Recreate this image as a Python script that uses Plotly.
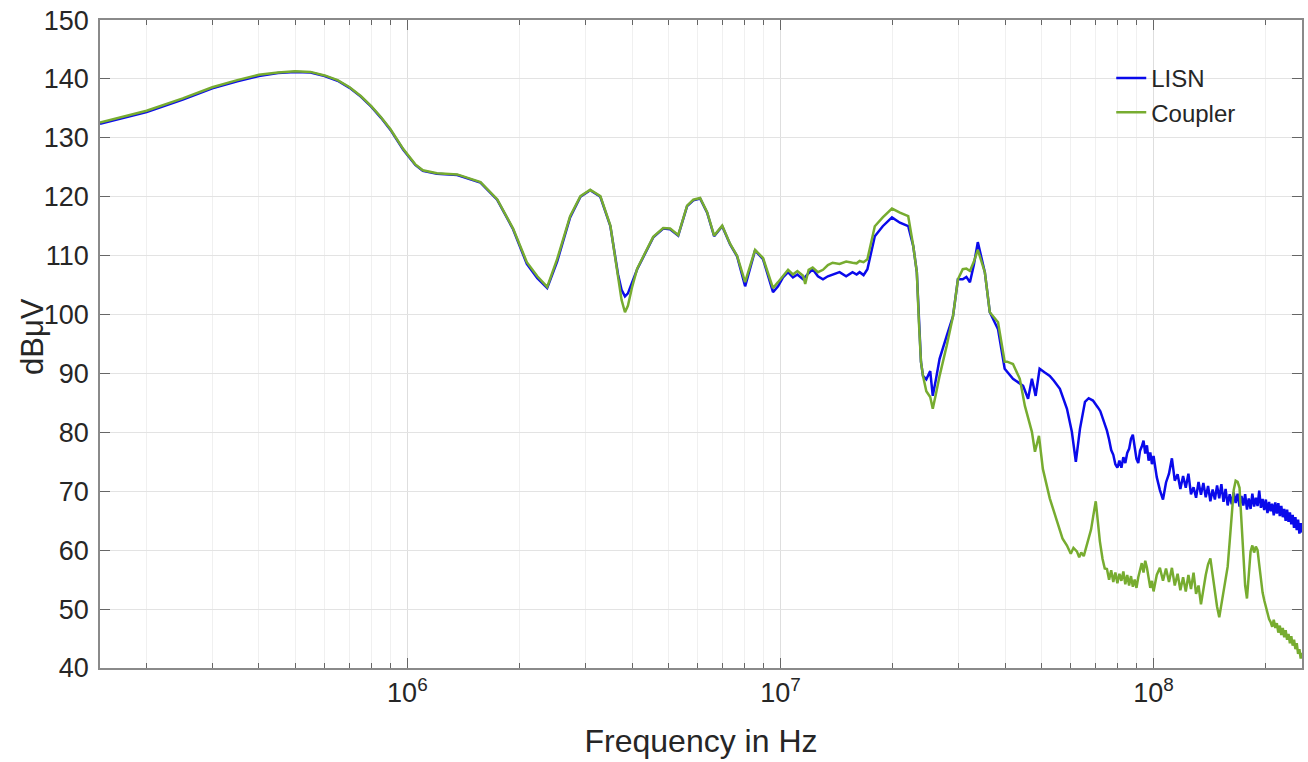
import plotly.graph_objects as go

# ---------------- data (frequency in MHz, level in dBuV) ----------------
lisn_freq_mhz = [
    0.15, 0.2, 0.25, 0.3, 0.35, 0.4, 0.45, 0.5, 0.55, 0.6, 0.65, 0.7, 0.75, 0.8, 0.85, 0.9, 0.975,
    1.05, 1.1, 1.2, 1.36, 1.57, 1.74, 1.92, 2.09, 2.23, 2.37, 2.52, 2.73, 2.91, 3.09, 3.29, 3.5,
    3.67, 3.75, 3.83, 3.9, 4.0, 4.13, 4.56, 4.85, 5.06, 5.32, 5.62, 5.84, 6.09, 6.36, 6.64, 6.98,
    7.33, 7.65, 8.04, 8.55, 8.98, 9.55, 9.85, 10.16, 10.48, 10.8, 11.1, 11.5, 11.8, 12.2, 12.6,
    13.0, 13.4, 13.8, 14.4, 15.0, 15.6, 16.0, 16.3, 16.7, 17.1, 17.9, 18.8, 19.9, 20.9, 22.0,
    22.7, 23.2, 23.5, 23.8, 24.1, 24.6, 25.2, 25.6, 26.1, 26.7, 27.9, 29.0, 29.9, 30.8, 31.5,
    32.2, 33.0, 33.8, 35.3, 36.4, 38.3, 39.9, 42.0, 44.7, 46.1, 47.2, 48.3, 49.5, 51.0, 52.7,
    54.0, 56.1, 58.6, 60.4, 61.9, 63.5, 65.5, 67.0, 68.8,
    70, 71, 72, 73, 74, 75, 76, 77, 78, 79, 80, 81, 82, 83, 84, 85, 86, 87, 88, 89, 90, 91, 92,
    93, 94, 95, 96, 97, 98, 99, 100,
    102, 104, 106, 108, 110, 112, 114, 116, 118, 120, 122, 124, 126, 128, 130, 132, 134, 136,
    138, 140, 142, 144, 146, 148, 150, 152, 154, 156, 158, 160, 162, 164, 166, 168, 170, 172,
    174, 176, 178, 180, 182, 184, 186, 188, 190, 192, 194, 196, 198, 200, 202, 204, 206, 208,
    210, 212, 214, 216, 218, 220, 222, 224, 226, 228, 230, 232, 234, 236, 238, 240, 242, 244,
    246, 248, 250,
]
lisn_db = [
    132.4, 134.4, 136.5, 138.4, 139.6, 140.5, 141.0, 141.2, 141.1, 140.5, 139.7, 138.5, 137.0, 135.3, 133.4, 131.4, 128.0,
    125.4, 124.4, 123.9, 123.7, 122.4, 119.5, 114.5, 108.6, 106.2, 104.5, 109.0, 116.5, 120.0, 121.1, 120.0, 115.0,
    106.8, 104.2, 103.1, 103.6, 105.3, 107.7, 113.1, 114.6, 114.5, 113.4, 118.4, 119.4, 119.7, 117.3, 113.3, 115.0,
    111.9, 109.9, 104.8, 110.9, 109.4, 103.8, 104.8, 106.3, 107.2, 106.3, 106.8, 106.0, 106.8, 107.7, 106.5,
    106.0, 106.5, 106.8, 107.2, 106.5, 107.2, 106.8, 107.2, 106.7, 107.7, 113.3, 115.0, 116.5, 115.6, 115.0,
    111.6, 107.2, 98.7, 92.0, 89.6, 89.0, 90.4, 86.2, 89.0, 92.5, 96.4, 99.7, 106.0, 106.0, 106.4,
    105.5, 108.5, 112.3, 107.2, 100.4, 97.5, 90.8, 89.1, 87.9, 85.7, 89.1, 86.2, 90.8, 90.2, 89.6,
    88.8, 87.4, 84.0, 80.1, 75.0, 80.6, 85.2, 85.8, 85.4,
    84.8, 84.2, 83.6, 82.5, 81.6, 80.3, 78.8, 77.0, 76.2, 74.6, 74.0, 75.2, 74.0, 75.8, 74.8, 76.5, 77.2, 78.9, 79.6, 77.0, 75.5, 74.8, 76.9,
    77.6, 78.6, 76.4, 77.8, 75.2, 76.6, 74.6, 76.0,
    72.4, 70.2, 68.6, 71.5, 73.0, 75.6, 71.8, 72.9, 70.4, 72.6, 70.6, 73.0, 69.5, 70.7, 68.9, 71.6, 69.4, 71.4,
    69.0, 70.9, 68.3, 70.3, 68.6, 71.0, 68.8, 71.2, 68.2, 70.4, 67.6, 69.5, 67.8, 69.8, 68.0, 69.6, 67.4, 69.2,
    67.6, 69.5, 66.9, 68.8, 67.0, 69.6, 67.4, 68.9, 67.5, 70.1, 67.2, 68.7, 66.8, 68.6, 66.3, 68.2, 66.6, 67.9,
    65.9, 68.1, 66.2, 68.0, 65.8, 67.5, 65.6, 67.0, 65.0, 66.9, 64.8, 66.4, 64.4, 66.0, 63.8, 65.6, 63.4, 65.2,
    62.8, 64.6, 63.0,
]

coupler_freq_mhz = [
    0.15, 0.2, 0.25, 0.3, 0.35, 0.4, 0.45, 0.5, 0.55, 0.6, 0.65, 0.7, 0.75, 0.8, 0.85, 0.9, 0.975,
    1.05, 1.1, 1.2, 1.36, 1.57, 1.74, 1.92, 2.09, 2.23, 2.37, 2.52, 2.73, 2.91, 3.09, 3.29, 3.5,
    3.67, 3.75, 3.83, 3.9, 4.0, 4.13, 4.56, 4.85, 5.06, 5.32, 5.62, 5.84, 6.09, 6.36, 6.64, 6.98,
    7.33, 7.65, 8.04, 8.55, 8.98, 9.55, 9.85, 10.16, 10.48, 10.8, 11.1, 11.5, 11.65, 11.9, 12.2,
    12.6, 13.0, 13.4, 13.8, 14.4, 15.0, 15.6, 16.0, 16.3, 16.7, 17.1, 17.9, 18.8, 19.9, 20.9,
    22.0, 22.7, 23.2, 23.5, 23.8, 24.1, 24.6, 25.2, 25.6, 26.1, 26.7, 27.9, 29.0, 29.9, 30.8,
    31.5, 32.2, 33.0, 33.8, 35.3, 36.4, 38.3, 39.9, 40.5, 42.0, 43.8, 45.2, 47.2, 48.1, 49.3,
    50.5, 52.7, 55.1, 57.0, 58.6, 60.0, 61.0, 62.3, 63.2, 64.0, 65.0, 66.2, 68.0, 69.0, 70.0,
    71.0, 71.8, 73.0, 74.0,
    75, 76, 77, 78, 79, 80, 81, 82, 83, 84, 85, 86, 87, 88, 89, 90, 91, 92, 93, 94, 95, 96, 97,
    98, 99, 100,
    102, 104, 106, 108, 110, 112, 114, 116, 118, 120, 122, 124, 126, 128, 130, 132, 134, 136,
    138, 140, 142, 144, 146, 148, 150, 152, 154, 156, 158, 160, 162, 164, 166, 168, 170, 172,
    174, 176, 178, 180, 182, 184, 186, 188, 190, 192, 194, 196, 198, 200, 202, 204, 206, 208,
    210, 212, 214, 216, 218, 220, 222, 224, 226, 228, 230, 232, 234, 236, 238, 240, 242, 244,
    246, 248, 250,
]
coupler_db = [
    132.6, 134.6, 136.7, 138.6, 139.8, 140.7, 141.1, 141.3, 141.2, 140.6, 139.8, 138.6, 137.1, 135.4, 133.5, 131.5, 128.1,
    125.5, 124.5, 124.0, 123.8, 122.5, 119.6, 114.6, 108.9, 106.5, 104.7, 109.4, 116.7, 120.1, 121.2, 120.1, 115.1,
    106.0, 102.5, 100.4, 101.5, 104.6, 107.8, 113.2, 114.7, 114.6, 113.5, 118.5, 119.5, 119.8, 117.4, 113.4, 115.1,
    112.0, 110.0, 105.5, 111.0, 109.6, 104.5, 105.5, 106.5, 107.6, 106.8, 107.4, 106.6, 105.2, 107.6, 108.0,
    107.2, 107.6, 108.4, 108.8, 108.6, 109.0, 108.8, 108.7, 109.1, 108.9, 109.4, 115.0, 116.5, 118.0, 117.3,
    116.7, 111.6, 107.2, 98.7, 92.0, 89.6, 87.0, 86.0, 84.0, 86.5, 89.6, 94.7, 99.7, 106.0, 107.7,
    107.8, 107.4, 109.0, 111.0, 107.2, 100.4, 98.7, 92.0, 92.0, 91.6, 89.1, 84.5, 80.1, 76.7, 79.4,
    73.8, 68.8, 64.9, 62.0, 60.8, 59.4, 60.4, 59.8, 58.8, 59.6, 59.0, 60.8, 63.5, 66.0, 68.3,
    64.5, 61.5, 58.5, 56.9,
    56.8, 55.0, 56.6, 54.6, 56.2, 54.4, 56.0, 54.8, 56.4, 54.2, 55.8, 54.0, 55.6, 53.8, 55.0, 53.6, 55.4, 56.4, 57.8, 56.2, 58.2, 57.0, 55.2,
    53.6, 54.8, 53.0,
    55.8, 57.0, 54.8, 56.9, 54.6, 57.0, 54.0, 56.0, 53.2, 55.4, 53.0, 55.8, 53.4, 56.2, 52.6, 54.0, 50.8, 53.4,
    55.8, 57.6, 58.6, 55.8, 52.6, 50.4, 48.6, 50.8, 53.4, 55.0, 57.2, 61.5, 65.8, 70.2, 71.8, 71.6, 70.6, 64.5,
    58.0, 54.0, 51.8, 55.5, 59.8, 60.8, 59.6, 60.6, 60.0, 57.5, 55.0, 52.8, 51.5, 50.4, 49.2, 48.3, 47.8, 47.0,
    48.2, 46.8, 47.6, 46.0, 47.2, 45.6, 46.8, 45.2, 46.4, 44.8, 45.8, 44.2, 45.4, 43.8, 44.8, 43.2, 44.2, 42.4,
    43.2, 41.6, 42.6,
]

y_ticks = [40, 50, 60, 70, 80, 90, 100, 110, 120, 130, 140, 150]
x_major_hz = [1e6, 1e7, 1e8]
x_major_text = ["10<sup>6</sup>", "10<sup>7</sup>", "10<sup>8</sup>"]
x_minor_hz = ([m * 1e5 for m in range(2, 10)] + [m * 1e6 for m in range(2, 10)]
              + [m * 1e7 for m in range(2, 10)] + [2e8])

lisn_hz = [f * 1e6 for f in lisn_freq_mhz]
coupler_hz = [f * 1e6 for f in coupler_freq_mhz]

TXT = "#262626"
FONT = "Liberation Sans, Arial, sans-serif"

fig = go.Figure()
fig.add_trace(go.Scatter(x=lisn_hz, y=lisn_db, mode="lines", name="LISN",
                         line=dict(color="#0a0aeb", width=2.5)))
fig.add_trace(go.Scatter(x=coupler_hz, y=coupler_db, mode="lines", name="Coupler",
                         line=dict(color="#77ac30", width=2.5)))

# plot area lands at x 100..1302, y 20..668 of the 1308x762 window
fig.update_layout(
    width=1308, height=762,
    margin=dict(l=100, r=6, t=20, b=94, autoexpand=False),
    paper_bgcolor="white", plot_bgcolor="white",
    font=dict(family=FONT, color=TXT, size=26),
    showlegend=True,
    legend=dict(x=0.8413, y=0.9445, xanchor="left", yanchor="top",
                bgcolor="rgba(0,0,0,0)", font=dict(size=24, color=TXT),
                tracegroupgap=0),
    annotations=[dict(text="dBμV", xref="paper", yref="paper",
                      x=-0.0557, y=0.511, xanchor="center", yanchor="middle",
                      textangle=-90, showarrow=False,
                      font=dict(size=31, color=TXT, family=FONT))],
)
fig.update_xaxes(
    type="log", range=[5.1761, 8.3979],
    tickvals=x_major_hz, ticktext=x_major_text,
    ticks="inside", ticklen=10, tickcolor="#666666", tickwidth=1,
    showgrid=True, gridcolor="#dedede", gridwidth=1,
    minor=dict(tickvals=x_minor_hz, ticks="inside", ticklen=5, tickcolor="#666666",
               showgrid=True, gridcolor="#f0f0f0", gridwidth=1),
    showline=True, linecolor="#8a8a8a", linewidth=1.5, mirror="ticks",
    zeroline=False, automargin=False,
    title=dict(text="Frequency in Hz", font=dict(size=32, color=TXT), standoff=22),
    tickfont=dict(size=27, color=TXT),
)
fig.update_yaxes(
    range=[40, 150.01], tickvals=y_ticks,
    ticks="inside", ticklen=10, tickcolor="#666666", tickwidth=1,
    showgrid=True, gridcolor="#e3e3e3", gridwidth=1,
    showline=True, linecolor="#8a8a8a", linewidth=1.5, mirror="ticks",
    zeroline=False, ticklabelstandoff=4, ticklabeloverflow="allow", automargin=False,
    tickfont=dict(size=27, color=TXT),
)

fig.write_html(
    "out.html",
    config={"displayModeBar": False},
    post_script="document.body.style.margin='0px';document.body.style.overflow='hidden';",
)
